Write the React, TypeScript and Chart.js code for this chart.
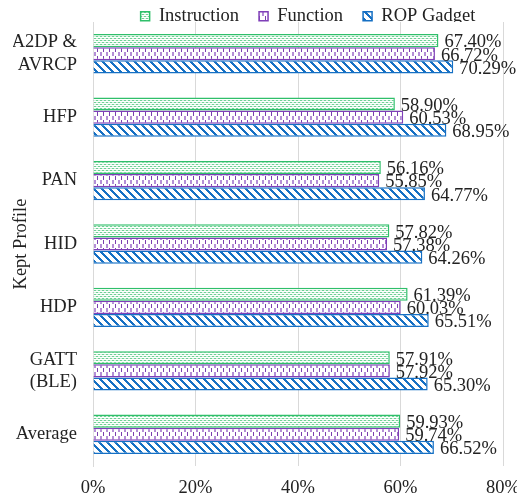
import React, { useEffect, useRef } from "react";
import { Chart, registerables } from "chart.js";

Chart.register(...registerables);

const categories: (string | string[])[] = [
  ["A2DP &", "AVRCP"],
  "HFP",
  "PAN",
  "HID",
  "HDP",
  ["GATT", "(BLE)"],
  "Average",
];
const instruction = [67.4, 58.9, 56.16, 57.82, 61.39, 57.91, 59.93];
const functionVals = [66.72, 60.53, 55.85, 57.38, 60.03, 57.92, 59.74];
const ropGadget = [70.29, 68.95, 64.77, 64.26, 65.51, 65.3, 66.52];
const xTicks = [0, 20, 40, 60, 80];
const yTitle = "Kept Profile";

const FONT = "'Liberation Serif', 'Times New Roman', serif";
const FS = 18.5;

function makePattern(kind: string): CanvasPattern | string {
  const c = document.createElement("canvas");
  const w = kind === "dash" ? 6 : 8;
  const h = 8;
  c.width = w;
  c.height = h;
  const g = c.getContext("2d")!;
  g.fillStyle = "#ffffff";
  g.fillRect(0, 0, w, h);
  if (kind === "dots") {
    for (let y = 0; y < h; y += 2) {
      g.fillStyle = "#d6f2df";
      g.fillRect(0, y, w, 1);
      g.fillStyle = "#6fd095";
      for (let x = (y / 2) % 2 === 0 ? 0 : 2; x < w; x += 4) {
        g.fillRect(x, y, 2, 1);
      }
    }
  } else if (kind === "dash") {
    g.fillStyle = "#7b3fb0";
    g.fillRect(1, 0, 1, 4);
    g.fillStyle = "#b48ed6";
    g.fillRect(4, 4, 2, 4);
  } else if (kind === "diag") {
    g.fillStyle = "#1670c4";
    for (let y = 0; y < h; y++) {
      for (let x = 0; x < w; x++) {
        if ((((x - y) % w) + w) % w < 3) g.fillRect(x, y, 1, 1);
      }
    }
  }
  const p = g.createPattern(c, "repeat");
  return p || "#ccc";
}

const labelPlugin = {
  id: "valueLabels",
  afterLayout(chart: any) {
    const lg = chart.legend;
    if (lg) {
      const w = lg.right - lg.left;
      const desiredCenter = 308;
      lg.left = desiredCenter - w / 2;
      lg.right = desiredCenter + w / 2;
      lg.top = -13;
    }
  },
  afterDatasetsDraw(chart: any) {
    const ctx = chart.ctx;
    ctx.save();
    ctx.font = `${FS}px ${FONT}`;
    ctx.fillStyle = "#222";
    ctx.textAlign = "left";
    ctx.textBaseline = "middle";
    chart.data.datasets.forEach((ds: any, i: number) => {
      const meta = chart.getDatasetMeta(i);
      meta.data.forEach((el: any, j: number) => {
        const v = ds.data[j] as number;
        ctx.fillText(v.toFixed(2) + "%", el.x + 6, el.y + 2);
      });
    });
    const ca = chart.chartArea;
    ctx.translate(21, (ca.top + ca.bottom) / 2);
    ctx.rotate(-Math.PI / 2);
    ctx.textAlign = "center";
    ctx.fillText(yTitle, 0, 0);
    ctx.restore();
  },
};

export default function App() {
  const ref = useRef<HTMLCanvasElement>(null);
  useEffect(() => {
    if (!ref.current) return;
    const chart = new Chart(ref.current, {
      type: "bar",
      data: {
        labels: categories,
        datasets: [
          {
            label: "Instruction",
            data: instruction,
            backgroundColor: makePattern("dots") as any,
            borderColor: "#2fbf6a",
            borderWidth: 1.5,
          },
          {
            label: "Function",
            data: functionVals,
            backgroundColor: makePattern("dash") as any,
            borderColor: "#7f3fb8",
            borderWidth: 1.5,
          },
          {
            label: "ROP Gadget",
            data: ropGadget,
            backgroundColor: makePattern("diag") as any,
            borderColor: "#1670c4",
            borderWidth: 1.5,
          },
        ],
      },
      options: {
        indexAxis: "y",
        animation: false,
        responsive: false,
        maintainAspectRatio: false,
        layout: { padding: { left: 13, right: 37, top: 0, bottom: 0 } },
        datasets: {
          bar: { barPercentage: 1, categoryPercentage: 0.62 },
        },
        plugins: {
          legend: {
            position: "top",
            maxHeight: 22,
            labels: {
              font: { family: FONT, size: FS },
              color: "#222",
              boxWidth: 9,
              boxHeight: 9,
              padding: 20,
            },
          },
          tooltip: { enabled: false },
        },
        scales: {
          x: {
            min: 0,
            max: 80,
            afterBuildTicks: (axis: any) => {
              axis.ticks = xTicks.map((v) => ({ value: v }));
            },
            afterFit: (axis: any) => {
              axis.height = 33;
              axis.paddingLeft = 0;
              axis.paddingRight = 0;
            },
            ticks: {
              font: { family: FONT, size: FS },
              color: "#222",
              padding: 11,
              maxRotation: 0,
              callback: (v: any) => v + "%",
            },
            grid: { color: "#d9d9d9", drawTicks: false },
            border: { display: false },
          },
          y: {
            afterFit: (axis: any) => {
              axis.width = 80;
              axis.paddingTop = 0;
              axis.paddingBottom = 0;
            },
            ticks: {
              font: { family: FONT, size: FS },
              color: "#222",
              padding: 16,
            },
            grid: { display: false, drawTicks: false },
            border: { display: true, color: "#d9d9d9" },
          },
        },
      },
      plugins: [labelPlugin],
    } as any);
    return () => chart.destroy();
  }, []);
  return (
    <div style={{ position: "fixed", left: 0, top: 0, width: 517, height: 499, overflow: "hidden", background: "#fff" }}>
      <canvas ref={ref} width={540} height={499} style={{ display: "block" }} />
    </div>
  );
}
